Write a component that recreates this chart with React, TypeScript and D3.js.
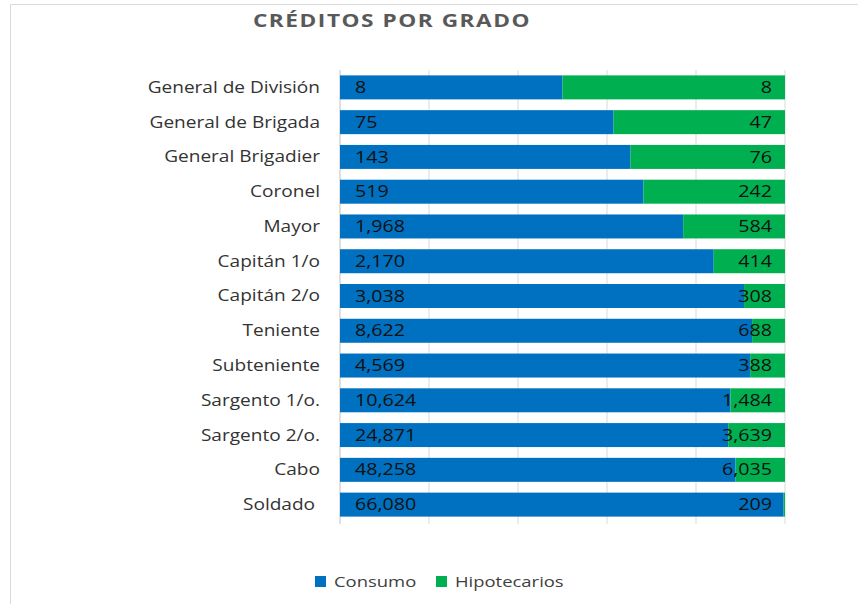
import React from 'react';
import * as d3 from 'd3';

const grados = [
  'General de División',
  'General de Brigada',
  'General Brigadier',
  'Coronel',
  'Mayor',
  'Capitán 1/o',
  'Capitán 2/o',
  'Teniente',
  'Subteniente',
  'Sargento 1/o.',
  'Sargento 2/o.',
  'Cabo',
  'Soldado\u00a0'
];
const consumo = [8, 75, 143, 519, 1968, 2170, 3038, 8622, 4569, 10624, 24871, 48258, 66080];
const hipotecarios = [8, 47, 76, 242, 584, 414, 308, 688, 388, 1484, 3639, 6035, 209];
const ticks = [0, 0.2, 0.4, 0.6, 0.8, 1];

const BLUE = '#0070C0';
const GREEN = '#00B050';
const FONT = '"Open Sans", sans-serif';
// the source picture is stretched sideways, so text gets a wider x scale
const SX = 1.23;

const App = () => {
  const width = 858;
  const height = 604;

  const x = d3.scaleLinear().domain([0, 1]).range([340, 785]);
  const y = d3
    .scaleBand()
    .domain(grados)
    .range([70, 522])
    .paddingInner(0.31)
    .paddingOuter(0.155);

  const rows = grados.map((g, i) => {
    const total = consumo[i] + hipotecarios[i];
    return { g, c: consumo[i], h: hipotecarios[i], share: consumo[i] / total };
  });
  const fmt = d3.format(',');
  const mid = y.bandwidth() / 2;

  return (
    <svg width={width} height={height} style={{ position: 'absolute', left: 0, top: 0 }}>
      <rect width={width} height={height} fill="#fff" />
      {/* chart frame, only top and left edges are visible */}
      <line x1={10.5} x2={width} y1={4.5} y2={4.5} stroke="#d9d9d9" />
      <line x1={10.5} x2={10.5} y1={4.5} y2={height} stroke="#d9d9d9" />

      <text
        transform={`translate(392,27) scale(${SX + 0.03},1)`}
        textAnchor="middle"
        fontFamily={FONT}
        fontWeight="bold"
        fontSize={18}
        letterSpacing={1.2}
        fill="#595959"
      >
        CRÉDITOS POR GRADO
      </text>

      {ticks.map(t => (
        <line
          key={t}
          x1={x(t)}
          x2={x(t)}
          y1={70}
          y2={524}
          stroke={t === 0 ? '#bfbfbf' : '#d9d9d9'}
          strokeWidth={1}
        />
      ))}

      {rows.map(d => (
        <g key={d.g} transform={`translate(0,${y(d.g)})`}>
          <rect x={x(0)} width={x(d.share) - x(0)} height={y.bandwidth()} fill={BLUE} />
          <rect x={x(d.share)} width={x(1) - x(d.share)} height={y.bandwidth()} fill={GREEN} />
          <text
            transform={`translate(320,${mid}) scale(${SX},1)`}
            dy="0.35em"
            textAnchor="end"
            fontFamily={FONT}
            fontSize={15.5}
            fill="#333"
          >
            {d.g}
          </text>
          <text
            transform={`translate(${x(0) + 15},${mid}) scale(${SX},1)`}
            dy="0.35em"
            fontFamily={FONT}
            fontSize={16}
            fill="#111"
          >
            {fmt(d.c)}
          </text>
          <text
            transform={`translate(${x(1) - 13},${mid}) scale(${SX},1)`}
            dy="0.35em"
            textAnchor="end"
            fontFamily={FONT}
            fontSize={16}
            fill="#111"
          >
            {fmt(d.h)}
          </text>
        </g>
      ))}

      <g fontFamily={FONT} fontSize={15} fill="#404040">
        <rect x={315} y={576} width={11} height={11} fill={BLUE} />
        <text transform={`translate(334,582) scale(${SX},1)`} dy="0.35em">Consumo</text>
        <rect x={436} y={576} width={11} height={11} fill={GREEN} />
        <text transform={`translate(455,582) scale(${SX},1)`} dy="0.35em">Hipotecarios</text>
      </g>
    </svg>
  );
};

export default App;
